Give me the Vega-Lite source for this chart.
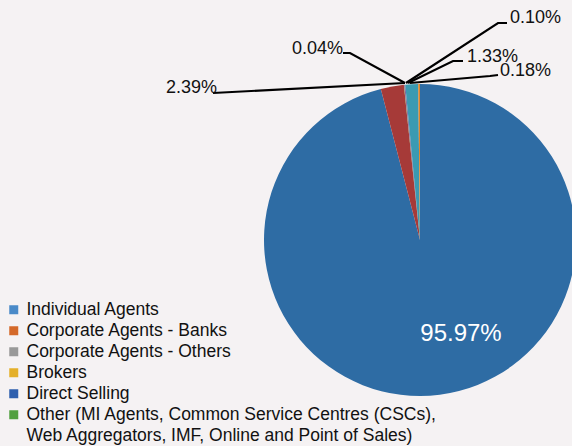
{
  "$schema": "https://vega.github.io/schema/vega-lite/v6.json",
  "width": 300,
  "height": 300,
  "autosize": {"type": "none"},
  "padding": {"left": 270, "top": 90, "right": 2, "bottom": 56},
  "background": "#f5f2f3",
  "config": {"view": {"stroke": null}, "font": "Liberation Sans"},
  "datasets": {
    "slices": [
      {"cat": "Individual Agents", "share": 95.97, "o": 1},
      {"cat": "Corporate Agents - Banks", "share": 2.39, "o": 2},
      {"cat": "Corporate Agents - Others", "share": 0.04, "o": 3},
      {"cat": "Brokers", "share": 0.10, "o": 4},
      {"cat": "Direct Selling", "share": 1.33, "o": 5},
      {"cat": "Other (MI Agents, Common Service Centres (CSCs), Web Aggregators, IMF, Online and Point of Sales)", "share": 0.18, "o": 6}
    ],
    "leaders": [
      {"id": "a", "k": 1, "ux": -1.3355, "uy": 0.9484},
      {"id": "a", "k": 2, "ux": -0.0968, "uy": 1.0129},
      {"id": "b", "k": 1, "ux": -0.4968, "uy": 1.2065},
      {"id": "b", "k": 2, "ux": -0.4516, "uy": 1.2065},
      {"id": "b", "k": 3, "ux": -0.0968, "uy": 1.0129},
      {"id": "c", "k": 1, "ux": 0.5613, "uy": 1.4},
      {"id": "c", "k": 2, "ux": 0.5032, "uy": 1.4},
      {"id": "c", "k": 3, "ux": -0.0903, "uy": 1.0129},
      {"id": "d", "k": 1, "ux": 0.2774, "uy": 1.1548},
      {"id": "d", "k": 2, "ux": 0.2129, "uy": 1.1548},
      {"id": "d", "k": 3, "ux": -0.0774, "uy": 1.0129},
      {"id": "e", "k": 1, "ux": 0.5032, "uy": 1.0645},
      {"id": "e", "k": 2, "ux": 0.4516, "uy": 1.0581},
      {"id": "e", "k": 3, "ux": -0.0645, "uy": 1.0129}
    ],
    "labelsRight": [
      {"lbl": "2.39%", "ux": -1.3097, "uy": 0.9484},
      {"lbl": "0.04%", "ux": -0.4968, "uy": 1.2}
    ],
    "labelsLeft": [
      {"lbl": "0.10%", "ux": 0.5806, "uy": 1.4},
      {"lbl": "1.33%", "ux": 0.3032, "uy": 1.1484},
      {"lbl": "0.18%", "ux": 0.5161, "uy": 1.0581}
    ],
    "labelBig": [
      {"lbl": "95.97%", "ux": 0.2645, "uy": -0.6516}
    ]
  },
  "layer": [
    {
      "data": {"name": "slices"},
      "mark": {"type": "arc", "outerRadius": 156},
      "encoding": {
        "theta": {"field": "share", "type": "quantitative", "stack": true},
        "order": {"field": "o", "type": "quantitative"},
        "color": {
          "field": "cat", "type": "nominal",
          "scale": {
            "domain": ["Individual Agents", "Corporate Agents - Banks", "Corporate Agents - Others", "Brokers", "Direct Selling", "Other (MI Agents, Common Service Centres (CSCs), Web Aggregators, IMF, Online and Point of Sales)"],
            "range": ["#2e6ca4", "#a63a38", "#8aae52", "#7a5c9c", "#3a9ab2", "#e0852a"]
          },
          "legend": null
        }
      }
    },
    {
      "data": {"name": "slices"},
      "mark": {"type": "arc", "outerRadius": 0, "innerRadius": 0},
      "encoding": {
        "theta": {"field": "share", "type": "quantitative", "stack": true},
        "color": {
          "field": "cat", "type": "nominal",
          "scale": {
            "domain": ["Individual Agents", "Corporate Agents - Banks", "Corporate Agents - Others", "Brokers", "Direct Selling", "Other (MI Agents, Common Service Centres (CSCs), Web Aggregators, IMF, Online and Point of Sales)"],
            "range": ["#4a8ac8", "#d4692a", "#999999", "#e4b02a", "#2e5fae", "#52a040"]
          },
          "legend": {
            "orient": "none",
            "legendX": -265,
            "legendY": 211,
            "title": null,
            "padding": 0,
            "symbolType": "square",
            "symbolSize": 81,
            "symbolStrokeWidth": 0,
            "labelFontSize": 17.5,
            "labelFont": "Liberation Sans",
            "labelColor": "#111111",
            "labelOffset": 4,
            "labelLimit": 600,
            "rowPadding": 2,
            "labelExpr": "indexof(datum.label, 'Other (') == 0 ? ['Other (MI Agents, Common Service Centres (CSCs),', 'Web Aggregators, IMF, Online and Point of Sales)'] : datum.label",
            "encode": {"labels": {"update": {"lineHeight": {"value": 21}}}}
          }
        }
      }
    },
    {
      "data": {"name": "leaders"},
      "mark": {"type": "line", "color": "#000000", "strokeWidth": 2.2},
      "encoding": {
        "x": {"field": "ux", "type": "quantitative", "scale": {"domain": [-0.9677, 0.9677], "nice": false, "zero": false}, "axis": null},
        "y": {"field": "uy", "type": "quantitative", "scale": {"domain": [-0.9677, 0.9677], "nice": false, "zero": false}, "axis": null},
        "detail": {"field": "id", "type": "nominal"},
        "order": {"field": "k", "type": "quantitative"}
      }
    },
    {
      "data": {"name": "labelsRight"},
      "mark": {"type": "text", "align": "right", "baseline": "alphabetic", "fontSize": 18, "font": "Liberation Sans", "color": "#111111"},
      "encoding": {
        "x": {"field": "ux", "type": "quantitative"},
        "y": {"field": "uy", "type": "quantitative"},
        "text": {"field": "lbl", "type": "nominal"}
      }
    },
    {
      "data": {"name": "labelsLeft"},
      "mark": {"type": "text", "align": "left", "baseline": "alphabetic", "fontSize": 18, "font": "Liberation Sans", "color": "#111111"},
      "encoding": {
        "x": {"field": "ux", "type": "quantitative"},
        "y": {"field": "uy", "type": "quantitative"},
        "text": {"field": "lbl", "type": "nominal"}
      }
    },
    {
      "data": {"name": "labelBig"},
      "mark": {"type": "text", "align": "center", "baseline": "alphabetic", "fontSize": 24, "font": "Liberation Sans", "color": "#ffffff"},
      "encoding": {
        "x": {"field": "ux", "type": "quantitative"},
        "y": {"field": "uy", "type": "quantitative"},
        "text": {"field": "lbl", "type": "nominal"}
      }
    }
  ],
  "resolve": {"scale": {"color": "independent", "theta": "independent"}}
}
